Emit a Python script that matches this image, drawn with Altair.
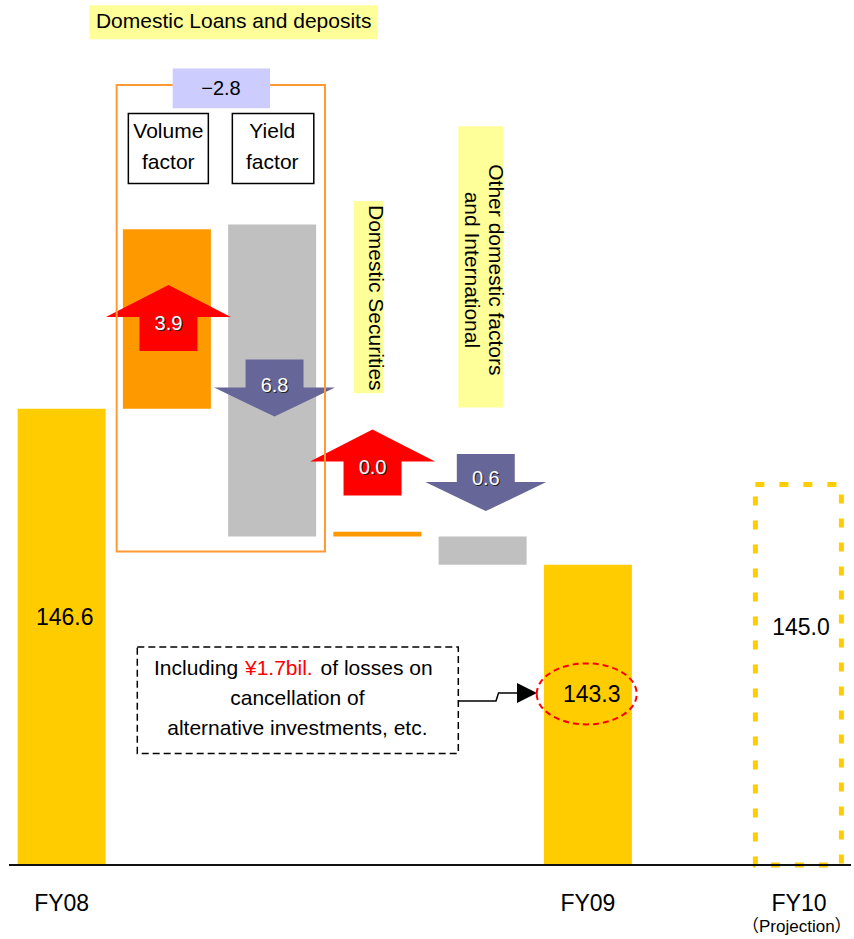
import altair as alt
import pandas as pd

FONT = "Liberation Sans, Arial, Noto Sans CJK JP, sans-serif"

# ---------------- data ----------------
BASE = 136.95          # value at the (truncated) baseline
TOP = 155.25           # value at the top of the plot area

TOTAL_NAMES = ["FY08", "FY09"]
TOTAL_SLOTS = [0, 5]
TOTAL_VALUES = [146.6, 143.3]

FACTOR_NAMES = ["Volume factor", "Yield factor", "Domestic Securities",
                "Other domestic factors and International"]
FACTOR_SLOTS = [1, 2, 3, 4]
FACTOR_FROM = [146.6, 150.5, 143.9, 143.9]
FACTOR_TO = [150.4, 143.9, 144.0, 143.3]
FACTOR_SIGN = ["up", "down", "up", "down"]

PROJ_NAMES = ["FY10"]
PROJ_SLOTS = [7]
PROJ_VALUES = [145.0]

ARROW_TEXT = ["3.9", "6.8", "0.0", "0.6"]
ARROW_SIGN = ["up", "down", "up", "down"]
ARROW_SLOT = [1.015, 2.023, 2.954, 4.030]
ARROW_MID = [148.52, 147.04, 145.465, 145.04]
ARROW_TEXT_AT = [148.40, 147.08, 145.355, 145.116]

CATEGORY_LABELS = ["FY08", "FY09", "FY10"]
CATEGORY_SLOTS = [0.0, 5.0, 7.006]
CATEGORY_AT = [136.125, 136.125, 136.125]
PROJ_NOTE = ["（Projection）"]
PROJ_NOTE_SLOT = [6.985]
PROJ_NOTE_AT = [135.638]

VALUE_LABEL_TEXT = ["146.6", "143.3", "145.0"]
VALUE_LABEL_SLOT = [0.029, 5.036, 7.025]
VALUE_LABEL_AT = [142.18, 140.55, 141.97]

# annotation boxes (slot units / value units)
FRAME_X, FRAME_X2, FRAME_Y, FRAME_Y2 = [0.523], [2.502], [153.45], [143.58]
DELTA_X, DELTA_X2, DELTA_Y, DELTA_Y2 = [1.055], [1.980], [153.80], [152.96]
KEY_X, KEY_X2 = [0.634, 1.622], [1.394, 2.396]
KEY_Y, KEY_Y2 = [152.85, 152.85], [151.37, 151.37]
HL_X, HL_X2 = [0.263, 2.778, 3.769], [3.003, 3.060, 4.196]
HL_Y, HL_Y2 = [155.14, 151.0, 152.58], [154.42, 146.93, 146.63]
NOTE_X, NOTE_X2, NOTE_Y, NOTE_Y2 = [0.719], [3.769], [141.56], [139.31]

LINK_X = [3.769, 4.127, 4.151, 4.327]
LINK_Y = [140.42, 140.42, 140.59, 140.59]
HEAD_X, HEAD_Y = [4.4216], [140.59]
RING_X, RING_Y = [4.989], [140.57]

# texts (multi-line texts are anchored at their first line)
CENTER_TEXT = ["Domestic Loans and deposits", "cancellation of", "alternative investments, etc."]
CENTER_X = [1.635, 2.24, 2.24]
CENTER_Y = [154.78, 140.46, 139.82]
KEY_TEXT = ["Volume\nfactor", "Yield\nfactor"]
KEY_TX = [1.0135, 2.0017]
KEY_TY = [152.46, 152.46]
DELTA_TEXT = ["−2.8"]
DELTA_TX, DELTA_TY = [1.514], [153.37]
VERT_TEXT = ["Domestic Securities", "Other domestic factors\nand International"]
VERT_X = [2.977, 4.113]
VERT_Y = [148.95, 149.54]
NOTE_PARTS = ["Including", "of losses on"]
NOTE_PART_X = [0.878, 2.46]
NOTE_PART_Y = [141.09, 141.09]
NOTE_RED = ["¥1.7bil."]
NOTE_RED_X = [1.742]
NOTE_RED_Y = [141.09]

# ---------------- shapes ----------------
UP_PATH = "M0,-0.528 L1,-0.016 L0.464,-0.016 L0.464,0.528 L-0.464,0.528 L-0.464,-0.016 L-1,-0.016 Z"
DOWN_PATH = "M-0.479,-0.471 L0.479,-0.471 L0.479,-0.008 L1,-0.008 L0,0.471 L-1,-0.008 L-0.479,-0.008 Z"
HEAD_PATH = "M-1,-1 L1,0 L-1,1 Z"
RING_PATH = "M-1,0 A1,0.61 0 1,1 1,0 A1,0.61 0 1,1 -1,0 Z"

xs = alt.Scale(domain=[-0.5, 7.5], nice=False, zero=False, padding=0)
ys = alt.Scale(domain=[BASE, TOP], nice=False, zero=False, padding=0)


def X(f):
    return alt.X(f"{f}:Q", scale=xs, axis=None)


def Y(f):
    return alt.Y(f"{f}:Q", scale=ys, axis=None)


def rect_df(x, x2, y, y2):
    return pd.DataFrame({"x": x, "x2": x2, "y": y, "y2": y2})


def rect_layer(df, **mark):
    return alt.Chart(df).mark_rect(**mark).encode(x=X("x"), x2="x2", y=Y("y"), y2="y2")


def text_layer(texts, tx, ty, **mark):
    df = pd.DataFrame({"t": texts, "x": tx, "y": ty})
    base = dict(font=FONT, baseline="middle", align="center", lineBreak="\n")
    base.update(mark)
    return alt.Chart(df).mark_text(**base).encode(x=X("x"), y=Y("y"), text="t:N")


# ---------------- layers ----------------
totals_df = pd.DataFrame({"name": TOTAL_NAMES, "slot": TOTAL_SLOTS,
                          "lo": [BASE] * len(TOTAL_VALUES), "hi": TOTAL_VALUES})
totals = alt.Chart(totals_df).mark_bar(size=88, color="#FFCC00").encode(
    x=X("slot"), y=Y("lo"), y2="hi")

factors_df = pd.DataFrame({"name": FACTOR_NAMES, "slot": FACTOR_SLOTS,
                           "lo": FACTOR_FROM, "hi": FACTOR_TO, "sign": FACTOR_SIGN})
factors = alt.Chart(factors_df).mark_bar(size=88).encode(
    x=X("slot"), y=Y("lo"), y2="hi",
    color=alt.Color("sign:N", scale=alt.Scale(domain=["up", "down"], range=["#FF9900", "#C0C0C0"]),
                    legend=None))

proj_df = pd.DataFrame({"name": PROJ_NAMES, "slot": PROJ_SLOTS,
                        "lo": [BASE] * len(PROJ_VALUES), "hi": PROJ_VALUES})
proj = alt.Chart(proj_df).mark_bar(size=86, fill="white", fillOpacity=0, stroke="#FFCC00",
                                   strokeWidth=5, strokeDash=[9, 15]).encode(
    x=X("slot"), y=Y("lo"), y2="hi")

baseline = alt.Chart(pd.DataFrame({"a": [-0.5], "b": [7.5], "v": [BASE]})).mark_rule(
    color="#111111", strokeWidth=2).encode(x=X("a"), x2="b", y=Y("v"))

arrows_df = pd.DataFrame({"slot": ARROW_SLOT, "mid": ARROW_MID, "label": ARROW_TEXT,
                          "at": ARROW_TEXT_AT, "sign": ARROW_SIGN})
arrows_up = alt.Chart(arrows_df).transform_filter(alt.datum.sign == "up").mark_point(
    shape=UP_PATH, size=15625, filled=True, color="#FF0000", opacity=1, strokeWidth=0).encode(
    x=X("slot"), y=Y("mid"))
arrows_down = alt.Chart(arrows_df).transform_filter(alt.datum.sign == "down").mark_point(
    shape=DOWN_PATH, size=14641, filled=True, color="#666699", opacity=1, strokeWidth=0).encode(
    x=X("slot"), y=Y("mid"))
arrow_shadow = alt.Chart(arrows_df).mark_text(
    font=FONT, fontSize=20, color="#222222", dx=1, dy=1, baseline="middle").encode(
    x=X("slot"), y=Y("at"), text="label:N")
arrow_text = alt.Chart(arrows_df).mark_text(
    font=FONT, fontSize=20, color="white", baseline="middle").encode(
    x=X("slot"), y=Y("at"), text="label:N")

frame = rect_layer(rect_df(FRAME_X, FRAME_X2, FRAME_Y, FRAME_Y2),
                   fill="white", fillOpacity=0, stroke="#FF9933", strokeWidth=2)
delta = rect_layer(rect_df(DELTA_X, DELTA_X2, DELTA_Y, DELTA_Y2), color="#CCCCFF")
keys = rect_layer(rect_df(KEY_X, KEY_X2, KEY_Y, KEY_Y2),
                  fill="white", stroke="black", strokeWidth=1.5)
highlights = rect_layer(rect_df(HL_X, HL_X2, HL_Y, HL_Y2), color="#FFFF99")
note_box = rect_layer(rect_df(NOTE_X, NOTE_X2, NOTE_Y, NOTE_Y2),
                      fill="white", fillOpacity=0, stroke="black", strokeWidth=1.5,
                      strokeDash=[7, 4])

link_df = pd.DataFrame({"x": LINK_X, "y": LINK_Y, "i": list(range(len(LINK_X)))})
link = alt.Chart(link_df).mark_line(color="black", strokeWidth=1.5).encode(
    x=X("x"), y=Y("y"), order="i:Q")
head = alt.Chart(pd.DataFrame({"x": HEAD_X, "y": HEAD_Y})).mark_point(
    shape=HEAD_PATH, size=400, filled=True, color="black", opacity=1, strokeWidth=0).encode(
    x=X("x"), y=Y("y"))
ring = alt.Chart(pd.DataFrame({"x": RING_X, "y": RING_Y})).mark_point(
    shape=RING_PATH, size=10000, filled=False, color="#FF0000", opacity=1, strokeWidth=2,
    strokeDash=[6, 4]).encode(x=X("x"), y=Y("y"))

t_center = text_layer(CENTER_TEXT, CENTER_X, CENTER_Y, fontSize=21, color="black")
t_keys = text_layer(KEY_TEXT, KEY_TX, KEY_TY, fontSize=21, color="black", lineHeight=31.6)
t_delta = text_layer(DELTA_TEXT, DELTA_TX, DELTA_TY, fontSize=20, color="black")
t_vert = text_layer(VERT_TEXT, VERT_X, VERT_Y, fontSize=21, color="black", angle=90,
                    lineHeight=23.2)
t_note = text_layer(NOTE_PARTS, NOTE_PART_X, NOTE_PART_Y, fontSize=21, color="black", align="left")
t_note_red = text_layer(NOTE_RED, NOTE_RED_X, NOTE_RED_Y, fontSize=21, color="#FF0000", align="left")
t_values = text_layer(VALUE_LABEL_TEXT, VALUE_LABEL_SLOT, VALUE_LABEL_AT, fontSize=23, color="black")
t_cats = text_layer(CATEGORY_LABELS, CATEGORY_SLOTS, CATEGORY_AT, fontSize=23, color="black")
t_proj = text_layer(PROJ_NOTE, PROJ_NOTE_SLOT, PROJ_NOTE_AT, fontSize=17, color="black")

chart = alt.layer(
    totals, factors, proj, baseline,
    arrows_up, arrows_down, arrow_shadow, arrow_text,
    frame, delta, keys, highlights, note_box, link, head, ring,
    t_center, t_keys, t_delta, t_vert, t_note, t_note_red, t_values, t_cats, t_proj,
).properties(
    width=842, height=865,
    autosize=alt.AutoSizeParams(type="none"),
    padding={"left": 9, "top": 0, "right": 3, "bottom": 74},
    background="white",
).configure_view(stroke=None)

chart.save("out.html", embed_options={"renderer": "svg", "actions": False})
